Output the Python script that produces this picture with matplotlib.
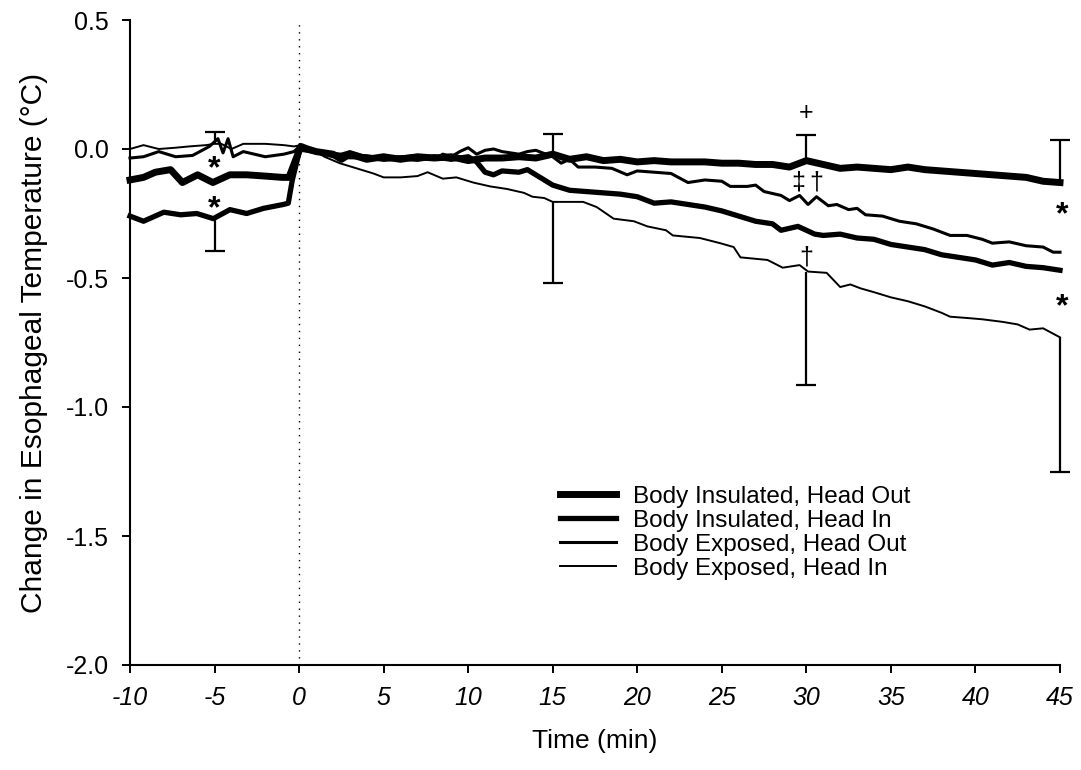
import matplotlib
matplotlib.use("Agg")
import matplotlib.pyplot as plt

plt.rcParams['font.family'] = ['Liberation Sans', 'DejaVu Sans']
plt.rcParams['axes.unicode_minus'] = False

# ---------------- data ----------------
# Body Insulated, Head Out
t_io = [-10, -9.2, -8.5, -7.6, -6.9, -6.0, -5.1, -4.1, -3.1, -2.0, -1.0, -0.6, 0.1, 0.5, 1.0, 1.5,
        2.0, 2.5, 3.0, 3.5, 4.0, 5.0, 6.0, 7.0, 8.0, 9.0, 10.0, 11.0, 12.0, 13.0, 14.0, 15.0,
        16.0, 17.0, 18.0, 19.0, 20.0, 21.0, 22.0, 23.0, 24.0, 25.0, 26.0, 27.0, 28.0, 29.0,
        30.0, 31.0, 32.0, 33.0, 34.0, 35.0, 36.0, 37.0, 38.0, 39.0, 40.0, 41.0, 42.0, 43.0,
        44.0, 45.0]
v_io = [-0.12, -0.11, -0.09, -0.08, -0.13, -0.10, -0.13, -0.10, -0.10, -0.105, -0.11, -0.11, 0.01,
        0.0, -0.01, -0.015, -0.02, -0.04, -0.02, -0.03, -0.04, -0.03, -0.04, -0.03, -0.035,
        -0.03, -0.045, -0.035, -0.035, -0.03, -0.035, -0.02, -0.04, -0.03, -0.045, -0.04,
        -0.05, -0.045, -0.05, -0.05, -0.05, -0.055, -0.055, -0.06, -0.06, -0.07, -0.045,
        -0.06, -0.075, -0.07, -0.075, -0.08, -0.07, -0.08, -0.085, -0.09, -0.095, -0.10,
        -0.105, -0.11, -0.125, -0.13]

# Body Insulated, Head In
t_ii = [-10, -9.2, -8.0, -7.0, -6.05, -5.07, -4.09, -3.1, -2.1, -0.93, -0.64, -0.4, 0.05, 0.5,
        1.0, 2.0, 3.0, 4.0, 5.0, 6.0, 7.0, 8.0, 9.0, 10.0, 10.5, 11.0, 11.5, 12.0, 13.0, 13.5,
        14.0, 15.0, 16.0, 17.0, 18.0, 19.0, 20.0, 21.0, 22.0, 23.0, 24.0, 25.0, 26.0, 27.0,
        28.0, 28.5, 29.5, 30.5, 31.0, 32.0, 33.0, 34.0, 35.0, 36.0, 37.0, 38.0, 39.0, 40.0,
        41.0, 42.0, 43.0, 44.0, 45.0]
v_ii = [-0.26, -0.28, -0.245, -0.255, -0.25, -0.27, -0.235, -0.25, -0.23, -0.215, -0.21, -0.12,
        0.0, -0.005, -0.01, -0.02, -0.03, -0.03, -0.04, -0.035, -0.04, -0.03, -0.04, -0.03,
        -0.05, -0.09, -0.10, -0.085, -0.09, -0.08, -0.10, -0.14, -0.16, -0.165, -0.17, -0.175,
        -0.185, -0.21, -0.205, -0.215, -0.225, -0.24, -0.26, -0.28, -0.29, -0.315, -0.30,
        -0.33, -0.335, -0.33, -0.345, -0.35, -0.37, -0.38, -0.39, -0.41, -0.42, -0.43, -0.45,
        -0.44, -0.455, -0.46, -0.47]

# Body Exposed, Head Out
t_eo = [-10, -9.2, -8.3, -7.3, -6.3, -5.3, -4.8, -4.5, -4.2, -3.9, -3.3, -2.0, -0.9, -0.3, 0.1,
        0.5, 1.0, 2.0, 3.0, 4.0, 5.0, 6.0, 7.0, 8.0, 8.5, 9.0, 9.5, 10.0, 10.5, 11.0, 11.5,
        12.0, 12.5, 13.0, 13.5, 14.0, 15.0, 15.5, 16.0, 16.5, 17.5, 18.5, 19.4, 20.0, 21.0,
        22.0, 23.0, 24.0, 25.0, 25.5, 26.5, 27.0, 27.5, 28.5, 29.0, 29.6, 30.1, 30.6, 31.3,
        31.8, 32.5, 33.0, 33.5, 34.5, 35.5, 36.5, 37.5, 38.5, 39.5, 40.4, 41.0, 42.0, 43.0,
        44.0, 44.6, 45.0]
v_eo = [-0.035, -0.03, -0.01, -0.03, -0.025, 0.01, 0.04, -0.015, 0.04, -0.03, -0.01, -0.03, -0.02,
        -0.01, 0.015, 0.0, -0.01, -0.03, -0.01, -0.03, -0.035, -0.03, -0.025, -0.04, -0.02,
        -0.03, -0.01, 0.005, -0.02, -0.005, 0.0, -0.01, -0.015, -0.02, -0.01, -0.005, -0.03,
        -0.055, -0.04, -0.07, -0.07, -0.075, -0.10, -0.085, -0.09, -0.095, -0.13, -0.12,
        -0.125, -0.145, -0.145, -0.14, -0.165, -0.18, -0.20, -0.18, -0.215, -0.185, -0.22,
        -0.215, -0.235, -0.23, -0.255, -0.26, -0.28, -0.29, -0.31, -0.335, -0.335, -0.35,
        -0.365, -0.36, -0.375, -0.38, -0.40, -0.40]

# Body Exposed, Head In
t_ei = [-10, -9.2, -8.3, -7.3, -6.5, -5.5, -5.0, -4.6, -4.0, -3.3, -2.0, -0.9, -0.3, 0.1, 0.5,
        1.0, 1.5, 2.4, 3.4, 4.4, 5.0, 6.0, 7.0, 7.6, 8.5, 9.3, 10.3, 11.3, 12.3, 13.3, 13.8,
        14.5, 15.0, 16.0, 16.8, 17.6, 18.6, 19.8, 20.6, 21.7, 22.1, 23.7, 24.9, 25.7, 26.1,
        27.7, 28.6, 29.6, 30.1, 31.2, 32.0, 32.6, 33.2, 34.0, 35.0, 36.0, 37.0, 38.0, 38.5,
        39.5, 40.4, 41.6, 42.5, 43.2, 44.0, 45.0]
v_ei = [0.0, 0.015, 0.0, 0.005, 0.01, 0.015, 0.02, 0.02, 0.0, 0.02, 0.02, 0.015, 0.01, 0.015,
        0.005, -0.01, -0.03, -0.055, -0.075, -0.095, -0.11, -0.11, -0.105, -0.09, -0.115,
        -0.11, -0.13, -0.145, -0.155, -0.17, -0.185, -0.19, -0.205, -0.205, -0.205, -0.225,
        -0.27, -0.28, -0.30, -0.315, -0.335, -0.345, -0.365, -0.38, -0.42, -0.43, -0.46,
        -0.45, -0.475, -0.48, -0.535, -0.525, -0.54, -0.555, -0.575, -0.59, -0.61, -0.635,
        -0.65, -0.655, -0.66, -0.67, -0.68, -0.70, -0.695, -0.73]

# one-sided error bars: time, line value, tip value
eb_t = [-5, -5, 15, 15, 30, 30, 45, 45]
eb_from = [0.02, -0.27, -0.016, -0.205, -0.045, -0.475, -0.13, -0.73]
eb_to = [0.065, -0.395, 0.058, -0.52, 0.054, -0.915, 0.035, -1.25]

# significance symbols
sym_t = [-5, -5, 30, 29.5, 30.6, 30, 45.1, 45.1]
sym_v = [-0.08, -0.235, 0.14, -0.13, -0.13, -0.42, -0.255, -0.615]
sym_s = ['*', '*', '+', '‡', '†', '†', '*', '*']
sym_size = [23, 23, 18, 18, 18, 18, 23, 23]

labels = ['Body Insulated, Head Out', 'Body Insulated, Head In',
          'Body Exposed, Head Out', 'Body Exposed, Head In']
x_ticks = [-10, -5, 0, 5, 10, 15, 20, 25, 30, 35, 40, 45]
y_ticks = [-2.0, -1.5, -1.0, -0.5, 0.0, 0.5]

# ---------------- figure ----------------
fig = plt.figure(figsize=(10.81, 7.70), dpi=100)
ax = fig.add_axes([130 / 1081, 1 - 665 / 770, 930 / 1081, 645 / 770])

series = [(t_io, v_io, 5.0), (t_ii, v_ii, 3.8), (t_eo, v_eo, 2.2), (t_ei, v_ei, 1.4)]
for (t, v, lw), lab in zip(series, labels):
    ax.plot(t, v, color='black', lw=lw, label=lab, solid_joinstyle='round', clip_on=False)

ax.axvline(0, color='black', lw=1.0, ls=(0, (1, 4)))

ax.vlines(eb_t, eb_from, eb_to, color='black', lw=1.6, clip_on=False)
ax.plot(eb_t, eb_to, ls='none', marker='_', ms=14, mew=1.6, color='black', clip_on=False)

for t, v, s, fs in zip(sym_t, sym_v, sym_s, sym_size):
    ax.text(t, v, s, ha='center', va='center', fontsize=fs, color='black',
            fontweight='bold' if s == '*' else 'normal')

ax.set_xlim(-10, 45)
ax.set_ylim(-2.0, 0.5)
ax.set_xticks(x_ticks)
ax.set_xticklabels([str(x) for x in x_ticks], fontsize=18, fontstyle='italic')
ax.set_yticks(y_ticks)
ax.set_yticklabels(['%.1f' % y for y in y_ticks], fontsize=18)
ax.tick_params(direction='out', length=6, width=1.4, pad=9)

for sp in ['top', 'right']:
    ax.spines[sp].set_visible(False)
for sp in ['left', 'bottom']:
    ax.spines[sp].set_linewidth(1.5)

ax.set_xlabel('Time (min)', fontsize=19, labelpad=14)
ax.set_ylabel('Change in Esophageal Temperature (°C)', fontsize=21.5, labelpad=13)

leg = ax.legend(loc='upper left', bbox_to_anchor=(0.452, 0.293), frameon=False,
                fontsize=17.5, handlelength=2.3, handletextpad=0.7, labelspacing=0.08,
                borderaxespad=0)

fig.savefig('out.png', dpi=100)
